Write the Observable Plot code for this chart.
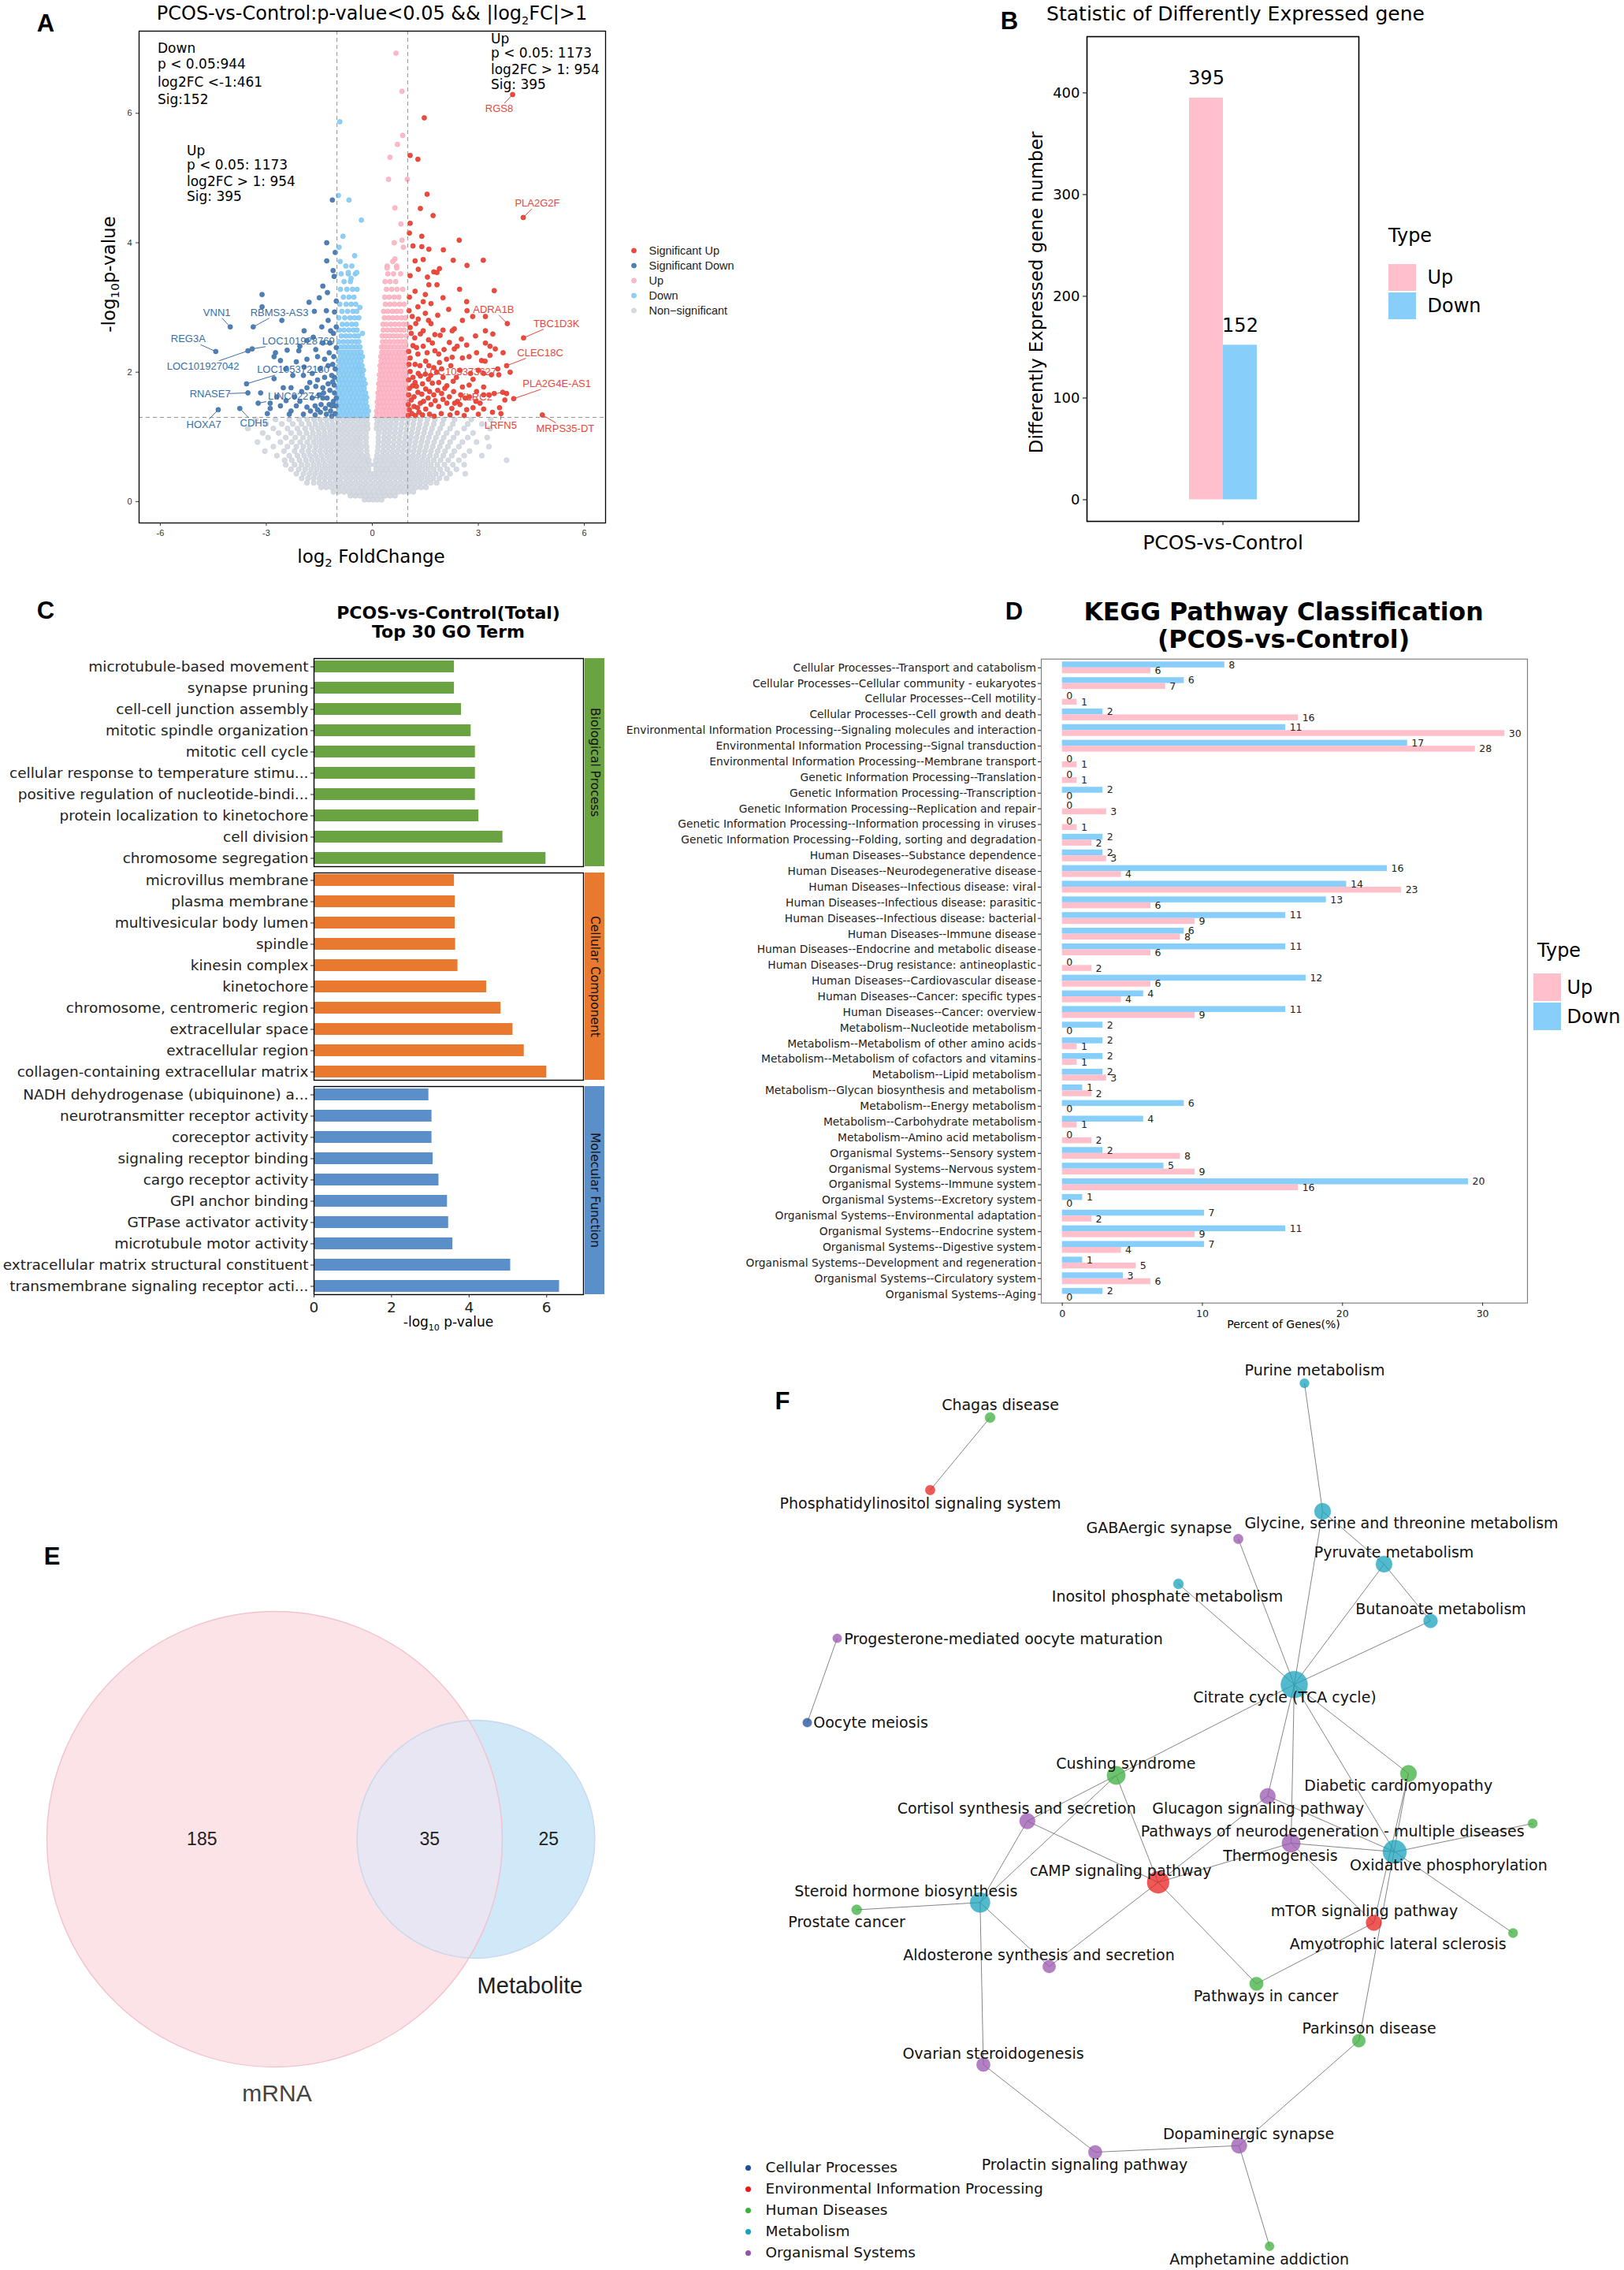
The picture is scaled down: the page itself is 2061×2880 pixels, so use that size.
<!DOCTYPE html>
<html><head><meta charset="utf-8">
<script src="https://cdn.jsdelivr.net/npm/d3@7"></script>
<script src="https://cdn.jsdelivr.net/npm/@observablehq/plot@0.6"></script>
<style>
html,body{margin:0;padding:0;background:#fff;}
#page{position:relative;width:2061px;height:2880px;overflow:hidden;background:#fff;}
#page svg{position:absolute;max-width:none;}
</style></head>
<body><div id="page"></div>
<script>
// ================= DATA =================
// ---- Panel A: volcano ----
const pCut = 0.05, fcCut = 1;
const volCats = ["Significant Up","Significant Down","Up","Down","Non-significant"];
// rows: [ -log10 p, [log2FC ...] ]
const nsRows = [
[0.03,[-0.22,-0.1,0.02,0.14,0.26]],
[0.09,[-0.62,-0.48,-0.34,-0.2,-0.06,0.08,0.22,0.36,0.5,0.64]],
[0.15,[-1.1,-0.95,-0.8,-0.66,-0.52,-0.38,-0.24,-0.1,0.04,0.18,0.32,0.46,0.6,0.74,0.88,1.02,1.16]],
[0.22,[-1.45,-1.3,-1.15,-1.0,-0.86,-0.72,-0.58,-0.44,-0.3,-0.16,-0.02,0.12,0.26,0.4,0.54,0.68,0.82,0.96,1.1,1.24,1.38,1.52]],
[0.29,[-1.85,-1.66,-1.5,-1.35,-1.2,-1.05,-0.9,-0.76,-0.62,-0.48,-0.34,-0.2,-0.06,0.08,0.22,0.36,0.5,0.64,0.78,0.92,1.06,1.2,1.35,1.5,1.65,1.82]],
[0.36,[-2.0,-1.82,-1.66,-1.5,-1.35,-1.2,-1.05,-0.9,-0.75,-0.61,-0.47,-0.33,-0.19,-0.05,0.09,0.23,0.37,0.51,0.65,0.8,0.95,1.1,1.25,1.4,1.56,1.72,1.9,2.1]],
[0.43,[-2.15,-1.95,-1.78,-1.62,-1.46,-1.31,-1.16,-1.01,-0.86,-0.72,-0.58,-0.44,-0.3,-0.16,-0.04,0.06,0.18,0.32,0.46,0.6,0.74,0.88,1.03,1.18,1.33,1.48,1.64,1.8,1.98,2.2,2.63]],
[0.50,[-2.3,-2.08,-1.9,-1.73,-1.57,-1.41,-1.26,-1.11,-0.96,-0.81,-0.67,-0.53,-0.39,-0.25,-0.11,0.11,0.25,0.39,0.53,0.67,0.82,0.97,1.12,1.27,1.42,1.58,1.74,1.92,2.12,2.38]],
[0.57,[-2.45,-2.2,-2.0,-1.83,-1.66,-1.5,-1.34,-1.18,-1.03,-0.88,-0.74,-0.6,-0.46,-0.32,-0.18,-0.07,0.07,0.17,0.31,0.45,0.59,0.73,0.88,1.03,1.18,1.34,1.5,1.66,1.84,2.04,2.28,2.6]],
[0.64,[-2.48,-2.28,-2.06,-1.88,-1.71,-1.55,-1.39,-1.23,-1.08,-0.93,-0.79,-0.65,-0.51,-0.37,-0.23,-0.1,0.1,0.23,0.37,0.51,0.65,0.8,0.95,1.1,1.25,1.41,1.57,1.74,1.93,2.15,2.45,3.8]],
[0.71,[-2.7,-2.35,-2.12,-1.93,-1.76,-1.6,-1.44,-1.28,-1.13,-0.98,-0.84,-0.7,-0.56,-0.42,-0.28,-0.14,0.13,0.28,0.42,0.56,0.7,0.85,1.0,1.15,1.3,1.46,1.63,1.81,2.01,2.25,2.6,3.1]],
[0.78,[-3.04,-2.5,-2.2,-1.99,-1.81,-1.64,-1.48,-1.32,-1.17,-1.02,-0.88,-0.74,-0.6,-0.46,-0.32,-0.16,0.15,0.3,0.44,0.58,0.72,0.87,1.02,1.17,1.33,1.49,1.66,1.85,2.06,2.32,2.75]],
[0.85,[-2.8,-2.4,-2.15,-1.95,-1.77,-1.6,-1.44,-1.29,-1.14,-0.99,-0.85,-0.71,-0.57,-0.43,-0.29,-0.16,0.16,0.31,0.45,0.59,0.74,0.89,1.04,1.2,1.36,1.53,1.71,1.91,2.14,2.45,3.3]],
[0.92,[-3.25,-2.6,-2.28,-2.04,-1.84,-1.66,-1.5,-1.34,-1.19,-1.04,-0.9,-0.76,-0.62,-0.48,-0.34,-0.18,0.17,0.32,0.46,0.61,0.76,0.91,1.06,1.22,1.39,1.56,1.75,1.96,2.2,2.55,2.95]],
[0.99,[-2.95,-2.45,-2.18,-1.96,-1.77,-1.6,-1.44,-1.29,-1.14,-1.0,-0.85,-0.71,-0.57,-0.43,-0.3,-0.17,0.17,0.33,0.47,0.62,0.77,0.93,1.09,1.25,1.42,1.6,1.8,2.02,2.3,2.7,3.25]],
[1.06,[-3.1,-2.65,-2.3,-2.06,-1.86,-1.68,-1.51,-1.35,-1.19,-1.04,-0.89,-0.75,-0.61,-0.47,-0.33,-0.18,0.18,0.34,0.49,0.64,0.79,0.95,1.11,1.28,1.46,1.65,1.86,2.1,2.4,2.85]],
[1.13,[-3.52,-2.8,-2.4,-2.12,-1.9,-1.71,-1.54,-1.38,-1.22,-1.07,-0.92,-0.78,-0.64,-0.5,-0.36,-0.22,-0.13,0.12,0.22,0.36,0.5,0.65,0.81,0.97,1.14,1.31,1.49,1.69,1.92,2.2,2.6,3.33]],
[1.20,[-3.0,-2.56,-2.25,-2.0,-1.79,-1.61,-1.44,-1.28,-1.12,-0.97,-0.82,-0.68,-0.54,-0.4,-0.27,-0.14,0.13,0.24,0.38,0.52,0.67,0.83,0.99,1.16,1.34,1.53,1.74,1.98,2.28,2.7,3.1]],
[1.27,[-3.3,-2.74,-2.35,-2.07,-1.84,-1.65,-1.48,-1.31,-1.15,-0.99,-0.84,-0.7,-0.56,-0.42,-0.29,-0.16,0.14,0.25,0.39,0.54,0.69,0.85,1.01,1.18,1.36,1.56,1.77,2.02,2.33,2.8,3.35]]
];
const downRows = [
[1.33,[-0.99,-0.88,-0.77,-0.66,-0.55,-0.44,-0.33,-0.23,-0.14]],
[1.40,[-0.94,-0.83,-0.71,-0.6,-0.49,-0.38,-0.28,-0.18,-0.11]],
[1.47,[-0.98,-0.87,-0.76,-0.65,-0.54,-0.43,-0.33,-0.22,-0.15]],
[1.54,[-0.93,-0.82,-0.71,-0.6,-0.49,-0.38,-0.27,-0.18]],
[1.61,[-0.99,-0.88,-0.77,-0.65,-0.54,-0.43,-0.32,-0.22,-0.16]],
[1.68,[-0.94,-0.83,-0.71,-0.6,-0.49,-0.38,-0.27,-0.19]],
[1.75,[-0.98,-0.87,-0.76,-0.65,-0.54,-0.43,-0.32,-0.23]],
[1.82,[-0.93,-0.82,-0.71,-0.6,-0.49,-0.38,-0.28,-0.2]],
[1.89,[-0.97,-0.86,-0.75,-0.64,-0.53,-0.42,-0.31,-0.24]],
[1.96,[-0.92,-0.81,-0.7,-0.59,-0.48,-0.37,-0.28]],
[2.03,[-0.97,-0.86,-0.75,-0.64,-0.53,-0.42,-0.32,-0.25]],
[2.10,[-0.91,-0.8,-0.69,-0.58,-0.47,-0.37,-0.29]],
[2.17,[-0.96,-0.85,-0.74,-0.63,-0.52,-0.41,-0.32]],
[2.24,[-0.9,-0.79,-0.68,-0.57,-0.46,-0.36,-0.28]],
[2.31,[-0.95,-0.84,-0.73,-0.62,-0.51,-0.4,-0.32]],
[2.39,[-0.89,-0.78,-0.67,-0.56,-0.45,-0.35]],
[2.47,[-0.95,-0.82,-0.7,-0.58,-0.47,-0.38]],
[2.56,[-0.88,-0.75,-0.63,-0.5,-0.4]],
[2.65,[-0.93,-0.8,-0.66,-0.53,-0.43]],
[2.74,[-0.85,-0.72,-0.58,-0.46]],
[2.84,[-0.95,-0.78,-0.63,-0.5,-0.38]],
[2.94,[-0.86,-0.7,-0.55,-0.44]],
[3.05,[-0.92,-0.74,-0.6,-0.47]],
[3.16,[-0.82,-0.66,-0.52]],
[3.28,[-0.9,-0.72,-0.56,-0.43]],
[3.40,[-0.8,-0.62]],
[3.52,[-0.88,-0.68,-0.48]],
[3.64,[-0.75,-0.58]]
];
const downOut = [[-0.92,5.87],[-0.96,4.73],[-0.66,4.66],[-0.31,4.35],[-0.94,3.93],[-0.5,3.8],[-0.91,3.71],[-0.68,3.54],[-0.44,3.54],[-0.6,3.45],[-0.83,4.1],[-0.35,3.0],[-0.28,2.6]];
const upRows = [
[1.33,[0.13,0.22,0.32,0.42,0.52,0.62,0.72,0.82,0.92,0.99]],
[1.40,[0.12,0.2,0.3,0.4,0.5,0.6,0.7,0.8,0.9,0.97]],
[1.47,[0.15,0.25,0.35,0.45,0.55,0.65,0.75,0.85,0.95]],
[1.54,[0.14,0.22,0.32,0.42,0.52,0.62,0.72,0.82,0.92,0.99]],
[1.61,[0.17,0.27,0.37,0.47,0.57,0.67,0.77,0.87,0.96]],
[1.68,[0.16,0.24,0.34,0.44,0.54,0.64,0.74,0.84,0.94]],
[1.75,[0.19,0.29,0.39,0.49,0.59,0.69,0.79,0.89,0.98]],
[1.82,[0.18,0.26,0.36,0.46,0.56,0.66,0.76,0.86,0.95]],
[1.89,[0.21,0.31,0.41,0.51,0.61,0.71,0.81,0.91,0.99]],
[1.96,[0.2,0.28,0.38,0.48,0.58,0.68,0.78,0.88,0.96]],
[2.03,[0.23,0.33,0.43,0.53,0.63,0.73,0.83,0.93]],
[2.10,[0.22,0.3,0.4,0.5,0.6,0.7,0.8,0.9,0.98]],
[2.17,[0.25,0.35,0.45,0.55,0.65,0.75,0.85,0.95]],
[2.24,[0.24,0.32,0.42,0.52,0.62,0.72,0.82,0.92]],
[2.31,[0.27,0.37,0.47,0.57,0.67,0.77,0.87,0.97]],
[2.39,[0.26,0.34,0.44,0.54,0.64,0.74,0.84,0.94]],
[2.47,[0.29,0.39,0.5,0.61,0.72,0.83,0.93]],
[2.56,[0.28,0.38,0.49,0.6,0.71,0.82,0.96]],
[2.65,[0.31,0.43,0.55,0.67,0.79,0.9]],
[2.74,[0.3,0.4,0.52,0.64,0.76,0.88,0.98]],
[2.84,[0.34,0.46,0.58,0.7,0.83,0.94]],
[2.94,[0.32,0.44,0.57,0.69,0.81]],
[3.05,[0.37,0.5,0.63,0.77,0.9]],
[3.16,[0.35,0.48,0.62,0.75]],
[3.28,[0.4,0.55,0.7,0.86]],
[3.40,[0.36,0.5,0.66]],
[3.52,[0.44,0.6,0.8]],
[3.64,[0.42,0.69]]
];
const upOut = [[0.67,6.93],[0.84,6.34],[0.86,5.66],[0.71,5.52],[0.50,5.32],[0.99,4.98],[0.46,4.98],[0.64,4.54],[0.81,4.29],[0.84,4.04],[0.62,4.0],[0.88,3.93],[0.64,3.75],[0.58,3.71],[0.42,3.61],[0.69,3.61]];
const sigDownPts = [[-1.13,4.66],[-1.29,4.00],[-1.29,3.72],[-1.11,3.57],[-1.08,3.48],[-1.40,3.33],[-1.27,3.23],[-3.12,3.20],[-1.79,3.08],[-1.64,2.94],[-2.56,2.80],[-1.07,2.93],[-1.25,2.80],[-1.43,2.70],[-1.93,2.64],[-1.18,2.64],[-1.67,2.54],[-1.85,2.49],[-2.08,2.33],[-2.41,2.34],[-2.74,2.30],[-2.78,2.24],[-2.60,2.18],[-2.15,2.16],[-1.93,2.08],[-1.55,2.24],[-1.22,2.30],[-1.09,2.24],[-1.70,1.98],[-1.55,1.88],[-1.77,1.84],[-1.85,1.76],[-2.00,1.70],[-1.40,1.76],[-1.25,1.82],[-1.07,1.92],[-1.07,1.68],[-1.40,1.60],[-1.62,1.48],[-1.85,1.46],[-2.15,1.48],[-2.30,1.40],[-2.44,1.56],[-2.60,1.48],[-2.89,1.44],[-2.97,1.36],[-2.52,1.76],[-2.30,1.76],[-2.78,1.90],[-3.16,1.68],[-2.89,1.52],[-3.12,3.01],[-1.03,1.48],[-1.18,1.40],[-1.33,1.44],[-1.47,1.38],[-1.05,2.05],[-1.12,2.12],[-1.15,1.95],[-1.20,1.72],[-1.28,1.60],[-1.10,1.55],[-1.35,1.92],[-1.50,1.65],[-1.60,1.78],[-1.05,1.36],[-1.15,1.32],[-1.30,1.35],[-1.62,1.34],[-1.75,1.40],[-1.95,1.35],[-2.05,1.55],[-1.70,1.60],[-1.20,2.45],[-1.35,2.20],[-1.48,2.05],[-1.10,2.60],[-1.02,3.10],[-1.60,2.35],[-1.95,1.95],[-2.25,1.95],[-2.45,2.05],[-1.30,2.95],[-1.50,3.15],[-1.05,3.85],[-1.45,1.50],[-1.08,1.80],[-1.25,2.10],[-1.40,2.45],[-1.85,2.20],[-2.05,2.40],[-1.22,1.50],[-1.02,1.60],[-1.12,1.85],[-1.02,2.38],[-1.14,1.48],[-1.38,1.68],[-1.55,1.42],[-2.2,1.62],[-2.7,1.62],[-2.35,1.35],[-1.02,2.70]];
const sigUpPts = [[1.47,5.93],[1.07,5.35],[1.29,5.29],[1.55,4.75],[1.36,4.53],[1.72,4.42],[1.07,4.30],[1.05,4.15],[1.40,4.10],[1.40,3.94],[2.01,3.89],[2.46,4.04],[2.29,3.73],[2.68,3.65],[3.14,3.73],[1.21,3.72],[1.44,3.74],[1.30,3.59],[1.56,3.47],[1.74,3.55],[1.83,3.54],[1.07,3.49],[1.60,3.35],[1.83,3.35],[1.21,3.25],[1.50,3.20],[2.47,3.28],[3.45,3.26],[2.67,3.09],[1.05,3.16],[1.44,3.09],[1.66,3.06],[1.29,3.01],[2.16,2.97],[2.68,2.95],[1.85,2.88],[1.50,2.91],[1.13,2.86],[1.59,2.80],[1.66,2.75],[1.23,2.75],[3.20,2.86],[2.84,2.86],[1.07,2.69],[1.44,2.64],[2.32,2.67],[2.26,2.64],[3.20,2.64],[1.36,2.59],[3.41,2.59],[1.92,2.57],[1.77,2.58],[2.92,2.56],[1.20,2.53],[1.59,2.50],[2.52,2.51],[2.67,2.42],[2.18,2.46],[2.32,2.36],[3.33,2.40],[3.48,2.36],[1.15,2.41],[1.44,2.40],[1.77,2.33],[2.03,2.35],[1.29,2.28],[1.07,2.22],[1.88,2.28],[2.26,2.23],[2.55,2.22],[2.74,2.24],[3.09,2.18],[3.19,2.17],[3.33,2.26],[1.51,2.17],[1.21,2.12],[1.74,2.07],[1.96,2.05],[2.22,2.10],[2.48,2.03],[2.78,1.98],[3.00,2.03],[3.15,1.98],[3.37,1.96],[1.07,2.01],[1.36,1.94],[1.59,1.89],[1.88,1.84],[2.11,1.79],[2.29,1.86],[2.55,1.77],[2.74,1.80],[2.85,1.89],[3.15,1.77],[3.30,1.65],[1.14,1.79],[1.29,1.69],[1.51,1.74],[1.74,1.65],[1.96,1.67],[2.18,1.62],[2.41,1.55],[2.63,1.60],[2.93,1.55],[3.15,1.65],[3.45,1.67],[3.80,1.67],[3.75,1.57],[1.10,1.57],[1.36,1.52],[1.66,1.50],[1.88,1.47],[2.11,1.52],[2.33,1.52],[2.48,1.50],[2.67,1.42],[2.85,1.45],[3.15,1.43],[1.05,1.42],[1.51,1.43],[1.21,1.84],[1.02,1.33],[1.12,1.36],[1.22,1.33],[1.32,1.38],[1.42,1.34],[1.62,1.35],[1.75,1.32],[1.95,1.36],[2.2,1.34],[2.4,1.37],[2.6,1.33],[3.0,1.35],[3.4,1.38],[1.02,1.50],[1.18,1.47],[1.28,1.45],[1.45,1.55],[1.58,1.60],[1.78,1.56],[2.0,1.58],[2.25,1.44],[1.03,1.65],[1.18,1.62],[1.40,1.66],[1.62,1.70],[1.85,1.72],[2.05,1.75],[1.05,1.75],[1.25,1.78],[1.42,1.82],[1.70,1.83],[2.0,1.92],[2.38,1.92],[1.03,1.88],[1.15,1.92],[1.30,1.98],[1.50,1.97],[1.65,1.95],[1.82,2.0],[1.04,2.12],[1.35,2.10],[1.60,2.10],[1.90,2.15],[2.10,2.20],[1.03,2.32],[1.25,2.38],[1.55,2.30],[1.70,2.45],[2.40,2.40],[1.10,2.60],[1.30,2.82],[1.04,2.95],[2.0,2.65],[2.95,2.30],[2.0,3.15],[1.90,3.60],[1.15,3.95],[1.60,3.90],[2.55,2.80],[3.55,2.05],[3.60,1.45],[2.95,1.70],[2.75,1.62],[3.05,1.52],[2.5,1.65],[2.3,1.70],[3.2,2.45],[3.7,2.3],[3.9,2.0]];
const geneNames = ["RGS8","PLA2G2F","ADRA1B","TBC1D3K","CLEC18C","LOC105373627","KLRC2","PLA2G4E-AS1","LRFN5","MRPS35-DT","VNN1","RBMS3-AS3","REG3A","LOC101927042","LOC101928769","LOC105372130","RNASE7","LINC02274","HOXA7","CDH5"];
const geneFC = [3.97,4.27,3.82,4.28,3.80,3.58,3.69,4.00,3.64,4.81,-4.02,-3.37,-4.43,-3.52,-3.40,-3.56,-3.52,-3.23,-4.36,-3.75];
const geneP  = [6.29,4.39,2.75,2.53,2.10,1.96,1.69,1.59,1.36,1.34,2.70,2.70,2.32,2.33,2.36,1.82,1.68,1.52,1.42,1.44];
const geneLabelAt = [[3.59,6.07],[4.67,4.61],[3.43,2.97],[5.21,2.75],[4.75,2.30],[2.49,2.01],[2.93,1.61],[5.22,1.82],[3.63,1.18],[5.46,1.13],[-4.40,2.92],[-2.63,2.92],[-5.21,2.51],[-4.79,2.09],[-2.09,2.48],[-2.24,2.04],[-4.59,1.66],[-2.22,1.63],[-4.77,1.19],[-3.35,1.21]];
const statDown = ["Down","p < 0.05:944","log2FC <-1:461","Sig:152"];
const statUp = ["Up","p < 0.05: 1173","log2FC > 1: 954","Sig: 395"];

// ---- Panel B ----
const degTypes = ["Up","Down"];
const degCounts = [395,152];
const degGroup = "PCOS-vs-Control";

// ---- Panel C ----
const goBP = ["microtubule-based movement","synapse pruning","cell-cell junction assembly","mitotic spindle organization","mitotic cell cycle","cellular response to temperature stimu...","positive regulation of nucleotide-bindi...","protein localization to kinetochore","cell division","chromosome segregation"];
const goBPv = [3.62,3.62,3.80,4.05,4.16,4.16,4.16,4.25,4.87,5.98];
const goCC = ["microvillus membrane","plasma membrane","multivesicular body lumen","spindle","kinesin complex","kinetochore","chromosome, centromeric region","extracellular space","extracellular region","collagen-containing extracellular matrix"];
const goCCv = [3.62,3.64,3.64,3.65,3.71,4.45,4.82,5.13,5.42,6.00];
const goMF = ["NADH dehydrogenase (ubiquinone) a...","neurotransmitter receptor activity","coreceptor activity","signaling receptor binding","cargo receptor activity","GPI anchor binding","GTPase activator activity","microtubule motor activity","extracellular matrix structural constituent","transmembrane signaling receptor acti..."];
const goMFv = [2.96,3.04,3.04,3.07,3.22,3.44,3.47,3.58,5.07,6.33];
const goGroups = ["Biological Process","Cellular Component","Molecular Function"];

// ---- Panel D ----
const keggCats = ["Cellular Processes--Transport and catabolism","Cellular Processes--Cellular community - eukaryotes","Cellular Processes--Cell motility","Cellular Processes--Cell growth and death","Environmental Information Processing--Signaling molecules and interaction","Environmental Information Processing--Signal transduction","Environmental Information Processing--Membrane transport","Genetic Information Processing--Translation","Genetic Information Processing--Transcription","Genetic Information Processing--Replication and repair","Genetic Information Processing--Information processing in viruses","Genetic Information Processing--Folding, sorting and degradation","Human Diseases--Substance dependence","Human Diseases--Neurodegenerative disease","Human Diseases--Infectious disease: viral","Human Diseases--Infectious disease: parasitic","Human Diseases--Infectious disease: bacterial","Human Diseases--Immune disease","Human Diseases--Endocrine and metabolic disease","Human Diseases--Drug resistance: antineoplastic","Human Diseases--Cardiovascular disease","Human Diseases--Cancer: specific types","Human Diseases--Cancer: overview","Metabolism--Nucleotide metabolism","Metabolism--Metabolism of other amino acids","Metabolism--Metabolism of cofactors and vitamins","Metabolism--Lipid metabolism","Metabolism--Glycan biosynthesis and metabolism","Metabolism--Energy metabolism","Metabolism--Carbohydrate metabolism","Metabolism--Amino acid metabolism","Organismal Systems--Sensory system","Organismal Systems--Nervous system","Organismal Systems--Immune system","Organismal Systems--Excretory system","Organismal Systems--Environmental adaptation","Organismal Systems--Endocrine system","Organismal Systems--Digestive system","Organismal Systems--Development and regeneration","Organismal Systems--Circulatory system","Organismal Systems--Aging"];
const keggDown = [8,6,0,2,11,17,0,0,2,0,0,2,2,16,14,13,11,6,11,0,12,4,11,2,2,2,2,1,6,4,0,2,5,20,1,7,11,7,1,3,2];
const keggUp   = [6,7,1,16,30,28,1,1,0,3,1,2,3,4,23,6,9,8,6,2,6,4,9,0,1,1,3,2,0,1,2,8,9,16,0,2,9,4,5,6,0];
const keggUpTotal = 95, keggDownTotal = 69;
const keggTicks = [0,10,20,30];

// ---- Panel E ----
const vennSets = ["mRNA","Metabolite"];
const vennOnlyA = 185, vennBoth = 35, vennOnlyB = 25;

// ---- Panel F ----
const netCats = ["Cellular Processes","Environmental Information Processing","Human Diseases","Metabolism","Organismal Systems"];
const netNodes = ["Purine metabolism","Chagas disease","Phosphatidylinositol signaling system","Glycine, serine and threonine metabolism","GABAergic synapse","Pyruvate metabolism","Inositol phosphate metabolism","Butanoate metabolism","Progesterone-mediated oocyte maturation","Citrate cycle (TCA cycle)","Oocyte meiosis","Cushing syndrome","Diabetic cardiomyopathy","Glucagon signaling pathway","Cortisol synthesis and secretion","Pathways of neurodegeneration - multiple diseases","Thermogenesis","Oxidative phosphorylation","cAMP signaling pathway","Steroid hormone biosynthesis","Prostate cancer","mTOR signaling pathway","Amyotrophic lateral sclerosis","Aldosterone synthesis and secretion","Pathways in cancer","Parkinson disease","Ovarian steroidogenesis","Dopaminergic synapse","Prolactin signaling pathway","Amphetamine addiction"];
const netNodeCat = [3,2,1,3,4,3,3,3,4,3,0,2,2,4,4,2,4,3,1,3,2,1,2,4,2,2,4,4,4,2];
const netNodeSize = [6,6.5,6.2,10.5,6.2,10.5,6.5,9,5.8,17,5.8,11.7,10.5,10,10,6,11.7,15,14,12.7,6.5,10,6,8.3,8.7,8.4,8.7,10,8.7,5.8];
const netEdges = [[1,2],[8,10],[0,3],[3,9],[3,5],[5,9],[5,7],[7,9],[4,9],[6,9],[9,11],[9,13],[9,16],[9,17],[9,12],[12,21],[12,25],[13,17],[13,18],[16,17],[16,18],[16,21],[17,15],[17,22],[11,14],[11,19],[11,18],[14,19],[14,18],[19,23],[19,20],[19,26],[18,23],[18,24],[21,24],[26,28],[28,27],[27,29],[27,25]];
// layout (network drawing coordinates, px within panel)
const netLayout = [[735,34.4],[336,78],[260,170],[758,197],[651,232],[836,264],[575,289],[895,336],[142,358],[722,416.7],[104,465],[496,532],[867,529.6],[688.3,558.3],[383.3,590],[1024.6,593],[718,618],[849.5,629],[549.3,667.7],[323.3,693.3],[166.7,702.5],[823,719],[999.7,732],[411,774.5],[674,796.4],[804,868.6],[327.5,899],[652,1001.7],[469.4,1010],[690.7,1129.4]];
const netLabelOffset = [[13,-15.5],[13,-16],[-12.5,17.5],[100,15],[-100.5,-14],[12.6,-14.5],[-14,16],[13,-14.5],[211,1],[-12,16.6],[80.5,0],[12.3,-14.7],[-12.8,16],[-12,15.7],[-13.6,-15.2],[-254,10.3],[-13.6,16],[68.4,17],[-47.6,-14.4],[-94,-14],[-12.7,16],[-12,-15],[-146,14],[-13,-14.5],[12,15.6],[13,-14.8],[12.5,-14],[12,-14.7],[-13.4,16],[-13,16.6]];

// ================= STYLES =================
const volFill = {"Significant Up":"#EF4A3D","Significant Down":"#4F80B7","Up":"#FFBAC7","Down":"#8ED0F7","Non-significant":"#D5DBE1"};
const volStroke = {"Significant Up":"#D33A2E","Significant Down":"#3D6B9F","Up":"#F4A6B6","Down":"#78BFEB","Non-significant":"#C6CDD5"};
const typeColor = {Up:"#FFC0CB", Down:"#87CEFA"};
const goColor = ["#6AA342","#E8792F","#5A8FC9"];
const netColor = ["#1F4E9C","#E8221F","#3DAF3D","#1AA3BD","#9956B0"];
const legendNetColor = ["#1F4E96","#E41A1C","#3DAF3D","#17A2B8","#9452A8"];

// ================= HELPERS =================
const page = document.getElementById("page");
function put(node, left, top) { node.style.position = "absolute"; node.style.left = left + "px"; node.style.top = top + "px"; page.appendChild(node); return node; }
function label(html, x, y, o = {}) {
  const d = document.createElement("div");
  d.innerHTML = html;
  const s = d.style;
  s.position = "absolute"; s.left = x + "px"; s.top = y + "px"; s.whiteSpace = "nowrap";
  s.fontFamily = o.font || "DejaVu Sans"; s.fontSize = (o.size || 16) + "px"; s.fontWeight = o.weight || "normal";
  s.color = o.color || "#000"; s.lineHeight = "1.15";
  const a = o.anchor || "middle";
  const tx = a === "middle" ? "-50%" : a === "end" ? "-100%" : "0";
  s.transform = `translate(${tx},-50%)` + (o.rotate ? ` rotate(${o.rotate}deg)` : "");
  page.appendChild(d); return d;
}
const flatRows = rows => rows.flatMap(([y, xs]) => xs.map(x => ({x, y})));
const pairs = arr => arr.map(([x, y]) => ({x, y}));
const baseStyle = (font, size) => ({background: "transparent", fontFamily: font, fontSize: size + "px", color: "#000", overflow: "visible"});

// ================= PANEL LETTERS =================
[["A",58,30],["B",1281,27],["C",58,775],["D",1287,776],["E",66,1975],["F",993,1778]].forEach(([t,x,y]) => label(t, x, y, {font:"Liberation Sans", size:31, weight:"bold"}));

// ================= PANEL A =================
{
  const ns = flatRows(nsRows).map(d => ({...d, c:"Non-significant"}));
  const dn = flatRows(downRows).concat(pairs(downOut)).map(d => ({...d, c:"Down"}));
  const up = flatRows(upRows).concat(pairs(upOut)).map(d => ({...d, c:"Up"}));
  const sd = pairs(sigDownPts).map(d => ({...d, c:"Significant Down"}));
  const su = pairs(sigUpPts).map(d => ({...d, c:"Significant Up"}));
  const W = 700, H = 740, mL = 76, mR = 32, mT = 39, mB = 77;
  const xd = [-6.6, 6.6], yd = [-0.33, 7.27];
  const kx = (W - mL - mR) / (xd[1] - xd[0]), ky = (H - mT - mB) / (yd[1] - yd[0]);
  const genes = geneNames.map((g, i) => {
    const x = geneFC[i], y = geneP[i], [lx, ly] = geneLabelAt[i];
    const dxp = (x - lx) * kx, dyp = (y - ly) * ky;
    const hw = g.length * 3.7 + 2, hh = 7;
    let t = Math.min(hw / Math.max(Math.abs(dxp), 1e-6), hh / Math.max(Math.abs(dyp), 1e-6));
    t = Math.min(t, 0.95);
    const c = x > 0 ? "Significant Up" : "Significant Down";
    return {g, x, y, lx, ly, sx: lx + (x - lx) * t, sy: ly + (y - ly) * t, c, tc: x > 0 ? "#E8453C" : "#3A6EA6"};
  });
  const dot = (data, r = 3) => Plot.dot(data, {x:"x", y:"y", r, fill: d => volFill[d.c], stroke: d => volStroke[d.c], strokeWidth: 0.7});
  const A = Plot.plot({
    width: W, height: H, marginLeft: mL, marginRight: mR, marginTop: mT, marginBottom: mB,
    x: {domain: xd}, y: {domain: yd}, color: {type: "identity"},
    style: baseStyle("Liberation Sans", 11),
    marks: [
      dot(ns, 3.2), dot(dn), dot(up), dot(sd), dot(su),
      Plot.ruleX([-fcCut, fcCut], {stroke: "#8f8f8f", strokeDasharray: "5,4", strokeWidth: 1}),
      Plot.ruleY([-Math.log10(pCut)], {stroke: "#8f8f8f", strokeDasharray: "5,4", strokeWidth: 1}),
      Plot.link(genes, {x1: "sx", y1: "sy", x2: "x", y2: "y", stroke: "tc", strokeWidth: 1}),
      dot(genes),
      Plot.text(genes, {x: "lx", y: "ly", text: "g", fill: "tc", fontSize: 13}),
      Plot.frame({stroke: "#000", strokeWidth: 1.3}),
      Plot.axisX({ticks: [-6,-3,0,3,6], tickSize: 4, label: null, fontSize: 11, tickFormat: d => String(d), color: "#333"}),
      Plot.axisY({ticks: [0,2,4,6], tickSize: 4, label: null, fontSize: 11, color: "#333"})
    ]
  });
  put(A, 100, 0);
  // legend
  const legA = Plot.plot({
    width: 200, height: 101, margin: 0,
    y: {type: "band", domain: volCats, axis: null}, color: {type: "identity"},
    style: baseStyle("Liberation Sans", 14.5),
    marks: [
      Plot.dot(volCats, {y: d => d, frameAnchor: "left", dx: 8, r: 3, fill: d => volFill[d], stroke: d => volStroke[d], strokeWidth: 0.7}),
      Plot.text(volCats, {y: d => d, frameAnchor: "left", dx: 27, text: d => d.replace("-", "\u2212"), textAnchor: "start", fill: "#222"})
    ]
  });
  put(legA, 796, 305);
  label("PCOS-vs-Control:p-value&lt;0.05 &amp;&amp; |log<sub style='font-size:0.6em;line-height:0'>2</sub>FC|&gt;1", 472, 18, {size: 24});
  label("log<sub style='font-size:0.65em;line-height:0'>2</sub> FoldChange", 471, 706, {size: 23});
  label("-log<sub style='font-size:0.65em;line-height:0'>10</sub>p-value", 138, 348, {size: 23, rotate: -90});
  const ysD = [62, 81.5, 105, 127], ysU = [192, 210, 231, 250], ysU2 = [50, 68, 89, 108];
  statDown.forEach((t, i) => label(t, 200, ysD[i], {size: 17, anchor: "start"}));
  statUp.forEach((t, i) => label(t, 237, ysU[i], {size: 17, anchor: "start"}));
  statUp.forEach((t, i) => label(t, 623, ysU2[i], {size: 17, anchor: "start"}));
}

// ================= PANEL B =================
{
  const data = degTypes.map((t, i) => ({type: t, count: degCounts[i], grp: degGroup}));
  const B = Plot.plot({
    width: 500, height: 720, marginLeft: 129, marginRight: 26, marginTop: 46, marginBottom: 59,
    fx: {padding: 0, label: null},
    x: {domain: degTypes, paddingInner: 0, paddingOuter: 3.01, axis: null},
    y: {domain: [-21.3, 455.3]}, color: {type: "identity"},
    style: baseStyle("DejaVu Sans", 18),
    marks: [
      Plot.barY(data, {fx: "grp", x: "type", y: "count", fill: d => typeColor[d.type], inset: 0}),
      Plot.text(data, {fx: "grp", x: "type", y: "count", text: d => String(d.count), dy: -25, fontSize: 24}),
      Plot.frame({stroke: "#000", strokeWidth: 1.6}),
      Plot.axisY({ticks: [0,100,200,300,400], tickSize: 5, label: null, fontSize: 18}),
      Plot.axisFx({anchor: "bottom", tickSize: 5, tickPadding: 13, label: null, fontSize: 25})
    ]
  });
  put(B, 1250, 0);
  label("Statistic of Differently Expressed gene", 1568, 18, {size: 25});
  label("Differently Expressed gene number", 1315, 371, {size: 23, rotate: -90});
  label("Type", 1762, 300, {size: 24, anchor: "start"});
  const legB = Plot.plot({
    width: 140, height: 71, margin: 0,
    x: {domain: [0, 4], axis: null}, y: {type: "band", domain: degTypes, paddingInner: 0.06, paddingOuter: 0, axis: null}, color: {type: "identity"},
    style: baseStyle("DejaVu Sans", 24),
    marks: [
      Plot.barX(degTypes, {x1: 0, x2: 1, y: d => d, fill: d => typeColor[d], inset: 0}),
      Plot.text(degTypes, {x: 1.4, y: d => d, text: d => d, textAnchor: "start"})
    ]
  });
  put(legB, 1762, 334);
}

// ================= PANEL C =================
{
  const sets = [[goBP, goBPv], [goCC, goCCv], [goMF, goMFv]];
  const frames = [[835, 1099], [1107, 1370], [1378, 1642]];
  sets.forEach(([terms, vals], gi) => {
    const data = terms.map((t, i) => ({term: t, v: vals[i]}));
    const last = gi === 2;
    const [t0, t1] = frames[gi];
    const P = Plot.plot({
      width: 742, height: (t1 - t0) + 4 + (last ? 58 : 0),
      marginLeft: 398, marginRight: 2, marginTop: 2, marginBottom: 2 + (last ? 58 : 0),
      x: last ? {domain: [0, 6.95]} : {domain: [0, 6.95], axis: null},
      y: {type: "band", domain: terms, paddingInner: 0.427, paddingOuter: 0.031},
      style: baseStyle("DejaVu Sans", 18.5),
      marks: [
        Plot.barX(data, {y: "term", x: "v", fill: goColor[gi]}),
        Plot.frame({stroke: "#000", strokeWidth: 1.4}),
        Plot.axisY({tickSize: 4, tickPadding: 3, label: null, fontSize: 18.5, color: "#222"}),
        ...(last ? [Plot.axisX({ticks: [0,2,4,6], tickSize: 4, label: null, fontSize: 18.5, color: "#222", tickFormat: d => String(d)})] : [])
      ]
    });
    put(P, 0, t0 - 2);
    const strip = document.createElement("div");
    Object.assign(strip.style, {position: "absolute", left: "742px", top: t0 + "px", width: "25px", height: (t1 - t0) + "px", background: goColor[gi], display: "flex", alignItems: "center", justifyContent: "center"});
    strip.innerHTML = `<span style="writing-mode:vertical-rl;font-family:'DejaVu Sans';font-size:15.5px;color:#111;white-space:nowrap">${goGroups[gi]}</span>`;
    page.appendChild(strip);
  });
  label("PCOS-vs-Control(Total)", 569, 778, {size: 22, weight: "bold"});
  label("Top 30 GO Term", 569, 802, {size: 22, weight: "bold"});
  label("-log<sub style='font-size:0.65em;line-height:0'>10</sub> p-value", 569, 1678, {size: 17});
}

// ================= PANEL D =================
{
  const rows = keggCats.map((c, i) => ({cat: c, down: keggDown[i], up: keggUp[i], dp: keggDown[i] / keggDownTotal * 100, up_p: keggUp[i] / keggUpTotal * 100}));
  const H = 878, mT = 5.7, mB = 55.3;
  const pin = 0.245, pout = 0.18;
  const step = (H - mT - mB) / (keggCats.length - pin + 2 * pout);
  const bw = step * (1 - pin);
  const D = Plot.plot({
    width: 1060, height: H, marginLeft: 421, marginRight: 22, marginTop: mT, marginBottom: mB,
    x: {domain: [-1.5, 33.2]},
    y: {type: "band", domain: keggCats, paddingInner: pin, paddingOuter: pout},
    style: baseStyle("DejaVu Sans", 13),
    marks: [
      Plot.barX(rows, {y: "cat", x: "dp", fill: typeColor.Down, insetBottom: bw / 2}),
      Plot.barX(rows, {y: "cat", x: "up_p", fill: typeColor.Up, insetTop: bw / 2}),
      Plot.text(rows, {y: "cat", x: "dp", text: d => String(d.down), dx: 5, dy: -bw / 4, textAnchor: "start", fontSize: 12.5, fill: "#222"}),
      Plot.text(rows, {y: "cat", x: "up_p", text: d => String(d.up), dx: 5, dy: bw / 4, textAnchor: "start", fontSize: 12.5, fill: "#222"}),
      Plot.frame({stroke: "#808080", strokeWidth: 1.2}),
      Plot.axisY({tickSize: 4, tickPadding: 2.5, label: null, fontSize: 13.8, color: "#222"}),
      Plot.axisX({ticks: keggTicks, tickSize: 4, label: null, fontSize: 12.5, color: "#222"})
    ]
  });
  put(D, 900, 830);
  label("KEGG Pathway Classification", 1629, 776, {size: 31.5, weight: "bold"});
  label("(PCOS-vs-Control)", 1629, 811, {size: 31.5, weight: "bold"});
  label("Percent of Genes(%)", 1629, 1680, {size: 14});
  label("Type", 1951, 1207, {size: 24, anchor: "start"});
  const legD = Plot.plot({
    width: 120, height: 72, margin: 0,
    x: {domain: [0, 120 / 35], axis: null}, y: {type: "band", domain: degTypes, paddingInner: 0.06, paddingOuter: 0, axis: null}, color: {type: "identity"},
    style: baseStyle("DejaVu Sans", 24),
    marks: [
      Plot.barX(degTypes, {x1: 0, x2: 1, y: d => d, fill: d => typeColor[d], inset: 0}),
      Plot.text(degTypes, {x: 1.2, y: d => d, text: d => d, textAnchor: "start"})
    ]
  });
  put(legD, 1946, 1235);
}

// ================= PANEL E =================
{
  function lensArea(r1, r2, d) {
    if (d >= r1 + r2) return 0;
    if (d <= Math.abs(r1 - r2)) return Math.PI * Math.min(r1, r2) ** 2;
    const a = r1 * r1 * Math.acos((d * d + r1 * r1 - r2 * r2) / (2 * d * r1));
    const b = r2 * r2 * Math.acos((d * d + r2 * r2 - r1 * r1) / (2 * d * r2));
    const c = 0.5 * Math.sqrt((-d + r1 + r2) * (d + r1 - r2) * (d - r1 + r2) * (d + r1 + r2));
    return a + b - c;
  }
  const k = 289 / Math.sqrt(vennOnlyA + vennBoth);
  const r1 = k * Math.sqrt(vennOnlyA + vennBoth), r2 = k * Math.sqrt(vennOnlyB + vennBoth);
  const target = Math.PI * k * k * vennBoth;
  let lo = Math.abs(r1 - r2) + 1e-6, hi = r1 + r2;
  for (let i = 0; i < 80; i++) { const m = (lo + hi) / 2; if (lensArea(r1, r2, m) > target) lo = m; else hi = m; }
  const dist = (lo + hi) / 2;
  const cx1 = 348, cy = 613, cx2 = cx1 + dist;
  const circles = [{x: cx1, y: cy, r: r1, f: "#F8C8D0", s: "#F2C3CE"}, {x: cx2, y: cy, r: r2, f: "#A2D4F2", s: "#C9D6EC"}];
  const xL = cx2 - r2, xR = cx1 + r1;
  const lens = d3.range(0, 241).map(i => {
    const x = xL + (xR - xL) * i / 240;
    const h = Math.min(Math.sqrt(Math.max(0, r1 * r1 - (x - cx1) ** 2)), Math.sqrt(Math.max(0, r2 * r2 - (x - cx2) ** 2)));
    return {x, y1: cy - h, y2: cy + h};
  });
  const nums = [
    {x: ((cx1 - r1) + xL) / 2, y: cy, t: String(vennOnlyA)},
    {x: (xL + xR) / 2, y: cy, t: String(vennBoth)},
    {x: (xR + cx2 + r2) / 2, y: cy, t: String(vennOnlyB)}
  ];
  const setLabels = [
    {x: cx1 + 3, y: cy + r1 + 34, t: vennSets[0], c: "#444", s: 30},
    {x: cx2 + 68.5, y: cy + r2 + 35, t: vennSets[1], c: "#222", s: 29}
  ];
  const E = Plot.plot({
    width: 900, height: 1160, margin: 0,
    x: {domain: [0, 900], range: [0, 900], axis: null}, y: {domain: [0, 1160], range: [0, 1160], axis: null},
    r: {type: "identity"}, color: {type: "identity"},
    style: baseStyle("Liberation Sans", 23),
    marks: [
      Plot.dot(circles, {x: "x", y: "y", r: "r", fill: "f", fillOpacity: 0.5, stroke: null}),
      Plot.areaY(lens, {x: "x", y1: "y1", y2: "y2", fill: "#E7E6F2"}),
      Plot.dot(circles, {x: "x", y: "y", r: "r", fill: null, stroke: "s", strokeWidth: 1.4}),
      Plot.text(nums, {x: "x", y: "y", text: "t", fill: "#222", fontSize: 23}),
      Plot.text(setLabels, {x: "x", y: "y", text: "t", fill: "c", fontSize: "s"})
    ]
  });
  put(E, 0, 1720);
}

// ================= PANEL F =================
{
  const nodes = netNodes.map((n, i) => ({name: n, cat: netNodeCat[i], r: netNodeSize[i], x: netLayout[i][0], y: netLayout[i][1], lx: netLayout[i][0] + netLabelOffset[i][0], ly: netLayout[i][1] + netLabelOffset[i][1]}));
  const links = netEdges.map(([a, b]) => ({x1: nodes[a].x, y1: nodes[a].y, x2: nodes[b].x, y2: nodes[b].y}));
  const F = Plot.plot({
    width: 1141, height: 1160, margin: 0,
    x: {domain: [0, 1141], range: [0, 1141], axis: null}, y: {domain: [0, 1160], range: [0, 1160], axis: null},
    r: {type: "identity"}, color: {type: "identity"},
    style: baseStyle("DejaVu Sans", 19),
    marks: [
      Plot.link(links, {x1: "x1", y1: "y1", x2: "x2", y2: "y2", stroke: "#858585", strokeWidth: 1}),
      Plot.dot(nodes, {x: "x", y: "y", r: "r", fill: d => netColor[d.cat], fillOpacity: 0.75, stroke: d => netColor[d.cat], strokeOpacity: 0.25, strokeWidth: 1}),
      Plot.text(nodes, {x: "lx", y: "ly", text: "name", fill: "#111", fontSize: 19})
    ]
  });
  put(F, 920, 1720);
  const legF = Plot.plot({
    width: 420, height: 138, margin: 0,
    y: {type: "band", domain: netCats, axis: null}, color: {type: "identity"},
    style: baseStyle("DejaVu Sans", 18.5),
    marks: [
      Plot.dot(netCats, {y: d => d, frameAnchor: "left", dx: 9, r: 3.5, fill: d => legendNetColor[netCats.indexOf(d)]}),
      Plot.text(netCats, {y: d => d, frameAnchor: "left", dx: 31, text: d => d, textAnchor: "start", fill: "#111"})
    ]
  });
  put(legF, 940, 2734.6);
}
</script></body></html>
